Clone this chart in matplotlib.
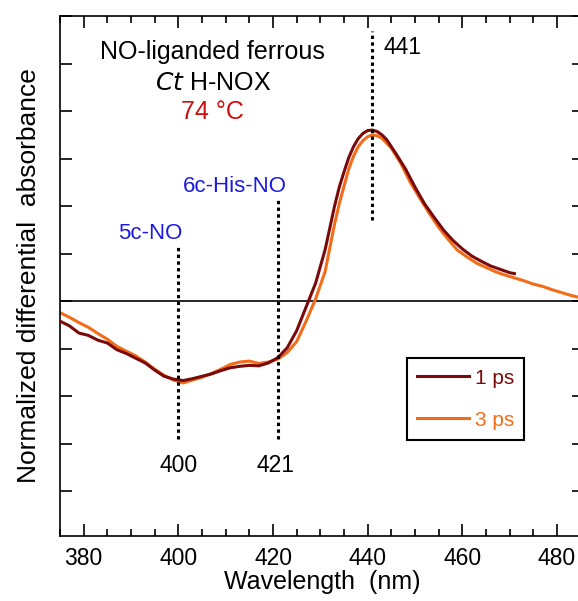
import numpy as np
import matplotlib
matplotlib.use('Agg')
import matplotlib.pyplot as plt
from matplotlib.ticker import MultipleLocator, NullFormatter

matplotlib.rcParams['font.family'] = ['Liberation Sans', 'DejaVu Sans']

# 1 ps transient spectrum (normalized)
wl_1ps = [375, 377, 379, 381, 383, 385, 387, 389, 391, 393, 395, 397, 399, 401,
          403, 405, 407, 409, 411, 413, 415, 417, 419, 421, 423, 425, 427, 429,
          431, 433, 434, 435, 436, 437, 438, 439, 440, 441, 442, 443, 444, 446,
          448, 450, 452, 454, 456, 458, 460, 462, 464, 466, 468, 470, 471]
abs_1ps = [-0.42, -0.52, -0.67, -0.72, -0.82, -0.88, -1.02, -1.10, -1.20, -1.30,
           -1.45, -1.58, -1.64, -1.67, -1.63, -1.58, -1.53, -1.46, -1.40, -1.37,
           -1.35, -1.36, -1.30, -1.19, -0.98, -0.62, -0.12, 0.38, 1.08, 2.00,
           2.40, 2.72, 3.02, 3.25, 3.42, 3.53, 3.59, 3.60, 3.57, 3.50, 3.40, 3.10,
           2.78, 2.40, 2.05, 1.77, 1.50, 1.28, 1.10, 0.95, 0.84, 0.74, 0.67, 0.60,
           0.58]

# 3 ps transient spectrum (normalized)
wl_3ps = [375, 377, 379, 381, 383, 385, 387, 389, 391, 393, 395, 397, 399, 401,
          403, 405, 407, 409, 411, 413, 415, 417, 419, 421, 423, 425, 427, 429,
          431, 433, 434, 435, 436, 437, 438, 439, 440, 441, 442, 443, 445, 447,
          449, 451, 453, 455, 457, 459, 461, 463, 465, 467, 469, 471, 473, 475,
          477, 479, 481, 483, 486]
abs_3ps = [-0.24, -0.34, -0.45, -0.55, -0.68, -0.80, -0.95, -1.05, -1.15, -1.28,
           -1.43, -1.56, -1.66, -1.72, -1.66, -1.60, -1.52, -1.43, -1.33, -1.28,
           -1.26, -1.31, -1.28, -1.22, -1.08, -0.85, -0.42, 0.05, 0.62, 1.62,
           2.05, 2.42, 2.78, 3.05, 3.25, 3.38, 3.46, 3.50, 3.48, 3.43, 3.22, 2.90,
           2.50, 2.17, 1.85, 1.55, 1.30, 1.07, 0.93, 0.80, 0.71, 0.62, 0.55, 0.49,
           0.43, 0.36, 0.31, 0.24, 0.18, 0.12, 0.05]

# marker lines: (wavelength, y from, y to)
markers = [(400, -2.9, 1.17), (421, -2.9, 2.14), (441, 1.70, 5.69)]

dark = '#7a0a0a'
orange = '#f26d1a'
blue = '#1a1ae0'

fig = plt.figure(figsize=(5.78, 6.01), dpi=100)
ax = fig.add_axes([60 / 578., 65 / 601., 524 / 578., 520 / 601.])

ax.axhline(0, color='black', lw=1.2, zorder=1)
ax.plot(wl_1ps, abs_1ps, color=dark, lw=2.2, label='1 ps', zorder=3)
ax.plot(wl_3ps, abs_3ps, color=orange, lw=2.2, label='3 ps', zorder=2)

for x, y0, y1 in markers:
    ax.plot([x, x], [y0, y1], color='black', lw=2.2, ls=(0, (1.1, 1.1)), zorder=4)

ax.set_xlim(375, 485.7)
ax.set_ylim(-4.94, 6.0)

ax.xaxis.set_major_locator(MultipleLocator(20))
ax.xaxis.set_minor_locator(MultipleLocator(5))
ax.yaxis.set_major_locator(MultipleLocator(1))
ax.yaxis.set_major_formatter(NullFormatter())
ax.tick_params(which='both', direction='in', top=True, right=True, width=1.2)
ax.tick_params(which='major', length=8.8, labelsize=16.5, pad=8)
ax.tick_params(which='minor', length=5)
for s in ax.spines.values():
    s.set_linewidth(1.2)

ax.set_xlabel('Wavelength  (nm)', fontsize=18, labelpad=0)
ax.set_ylabel('Normalized differential  absorbance', fontsize=19, labelpad=6)

# annotations
ax.text(400, -3.45, '400', fontsize=16.5, ha='center', va='center')
ax.text(420.5, -3.45, '421', fontsize=16.5, ha='center', va='center')
ax.text(443.3, 5.33, '441', fontsize=16.5, ha='left', va='center')
ax.text(394, 1.43, '5c-NO', fontsize=16, color=blue, ha='center', va='center')
ax.text(412, 2.42, '6c-His-NO', fontsize=16, color=blue, ha='center', va='center')
ax.text(407.3, 5.24, 'NO-liganded ferrous', fontsize=18, ha='center', va='center')
ax.text(407.3, 4.6, r'$\it{Ct}$ H-NOX', fontsize=18, ha='center', va='center')
ax.text(407.3, 3.97, '74 °C', fontsize=18, color='#cc1010', ha='center', va='center')

leg = ax.legend(loc='lower left', bbox_to_anchor=(0.662, 0.1846), fontsize=15,
                frameon=True, fancybox=False, edgecolor='black', framealpha=1,
                handlelength=2.5, handletextpad=0.25, labelspacing=1.1,
                borderpad=0.5, borderaxespad=0, labelcolor='linecolor')
leg.get_frame().set_linewidth(1.5)

fig.savefig('out.png', dpi=100)
